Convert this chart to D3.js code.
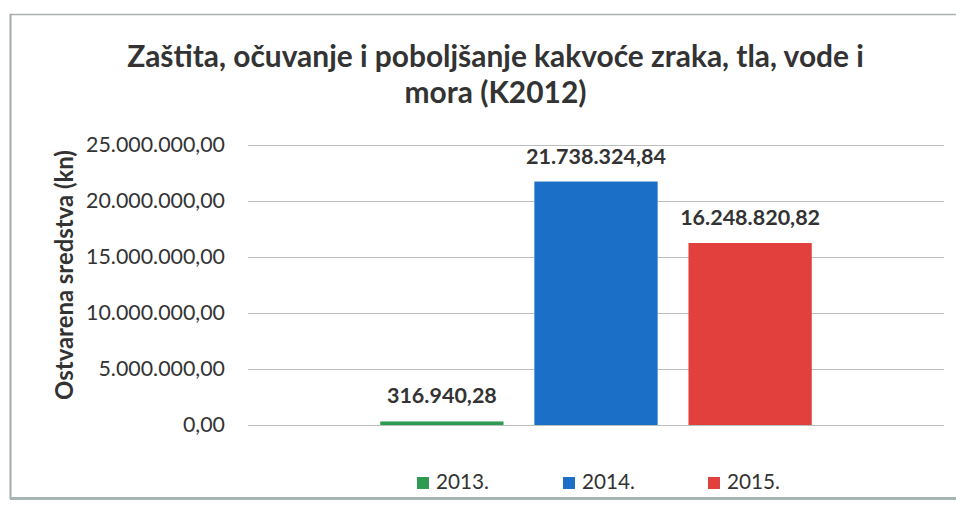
<!DOCTYPE html>
<html>
<head>
<meta charset="utf-8">
<script src="https://cdn.jsdelivr.net/npm/d3@7"></script>
<style>
  html, body { margin: 0; padding: 0; background: #ffffff; }
  svg { display: block; }
  text { font-family: Lato, "Open Sans", sans-serif; fill: #333333; }
</style>
</head>
<body>
<svg id="chart" width="956" height="505"></svg>
<script>
// ---- data ----
const titleLines = ["Zaštita, očuvanje i poboljšanje kakvoće zraka, tla, vode i", "mora (K2012)"];
const category = ["K2012"];
const years = ["2013.", "2014.", "2015."];
const values = [316940.28, 21738324.84, 16248820.82];
const colors = ["#2f9a52", "#1c6fc6", "#e2403d"];
const yTicks = [0, 5000000, 10000000, 15000000, 20000000, 25000000];
const yTitle = "Ostvarena sredstva (kn)";

const svg = d3.select("#chart");
const W = 956, H = 505;

const hr = d3.formatLocale({ decimal: ",", thousands: ".", grouping: [3], currency: ["", " kn"] });
const fmt = hr.format(",.2f");

// frame of the scanned chart box
svg.append("line").attr("x1", 10).attr("x2", W).attr("y1", 14.5).attr("y2", 14.5)
  .attr("stroke", "#a9b1b1").attr("stroke-width", 1.5);
svg.append("line").attr("x1", 10.5).attr("x2", 10.5).attr("y1", 14).attr("y2", 499)
  .attr("stroke", "#a3aaaa").attr("stroke-width", 2);
svg.append("line").attr("x1", 10).attr("x2", W).attr("y1", 498.5).attr("y2", 498.5)
  .attr("stroke", "#a7b4b6").attr("stroke-width", 3);

// helper to fit a text to a target width
function fit(sel, target) {
  const node = sel.node();
  const fs = parseFloat(sel.attr("font-size"));
  const w = node.getComputedTextLength();
  sel.attr("font-size", (fs * target / w).toFixed(2));
  return sel;
}

// scales
const plotL = 248, plotR = 944, plotT = 145, plotB = 425;
const y = d3.scaleLinear().domain([0, 25000000]).range([plotB, plotT]);
const x0 = d3.scaleBand().domain(category).range([plotL, plotR]).paddingInner(0.38).paddingOuter(0.19);
const x1 = d3.scaleBand().domain(years).range([0, x0.bandwidth()]).paddingInner(0.2);

// axis with gridlines
const axis = d3.axisLeft(y).tickValues(yTicks).tickFormat(fmt)
  .tickSize(-(plotR - plotL)).tickPadding(23);
const gAxis = svg.append("g").attr("transform", `translate(${plotL},0)`).call(axis);
gAxis.select(".domain").remove();
gAxis.selectAll(".tick line").attr("stroke", "#b9bebe").attr("stroke-width", 1.2);
gAxis.selectAll(".tick text").attr("font-size", 20).attr("fill", "#2e2e2e")
  .style("font-family", "Lato, 'Open Sans', sans-serif");
// fit tick labels (widest is 139px)
{
  const t = gAxis.selectAll(".tick text").filter(d => d === 25000000);
  const w = t.node().getComputedTextLength();
  const fs = 20 * 139 / w;
  gAxis.selectAll(".tick text").attr("font-size", fs.toFixed(2));
}

// bars
const g = svg.append("g").attr("transform", `translate(${x0(category[0])},0)`);
g.selectAll("rect").data(years).join("rect")
  .attr("x", d => x1(d))
  .attr("width", x1.bandwidth())
  .attr("y", (d, i) => Math.min(y(values[i]), plotB - 3))
  .attr("height", (d, i) => Math.max(plotB - y(values[i]), 3))
  .attr("fill", (d, i) => colors[i]);

// value labels
const vl = g.selectAll("text.val").data(years).join("text")
  .attr("class", "val")
  .attr("x", d => x1(d) + x1.bandwidth() / 2)
  .attr("y", (d, i) => Math.min(y(values[i]), plotB - 3) - 18)
  .attr("text-anchor", "middle")
  .attr("font-weight", "bold")
  .attr("font-size", 20)
  .attr("fill", "#262626")
  .text((d, i) => fmt(values[i]));
{
  const w = vl.filter((d, i) => i === 1).node().getComputedTextLength();
  vl.attr("font-size", (20 * 140 / w).toFixed(2));
}

// title
const t1 = svg.append("text").attr("x", 495.5).attr("y", 67).attr("text-anchor", "middle")
  .attr("font-weight", "bold").attr("font-size", 27).attr("fill", "#363636").text(titleLines[0]);
fit(t1, 737);
const t2 = svg.append("text").attr("x", 495.5).attr("y", 103).attr("text-anchor", "middle")
  .attr("font-weight", "bold").attr("font-size", t1.attr("font-size")).attr("fill", "#363636").text(titleLines[1]);

// y-axis title
const yt = svg.append("text").attr("transform", "translate(73,275) rotate(-90)")
  .attr("text-anchor", "middle").attr("font-weight", "bold").attr("font-size", 20)
  .attr("fill", "#333").text(yTitle);
fit(yt, 250);

// legend
const legX = [417, 563, 708];
const leg = svg.append("g").selectAll("g").data(years).join("g")
  .attr("transform", (d, i) => `translate(${legX[i]},477)`);
leg.append("rect").attr("width", 12).attr("height", 12).attr("fill", (d, i) => colors[i]);
const lt = leg.append("text").attr("x", 19).attr("y", 11.5).attr("font-size", 20)
  .attr("fill", "#222").text(d => d);
{
  const w = lt.filter((d, i) => i === 0).node().getComputedTextLength();
  lt.attr("font-size", (20 * 53 / w).toFixed(2));
}
</script>
</body>
</html>
